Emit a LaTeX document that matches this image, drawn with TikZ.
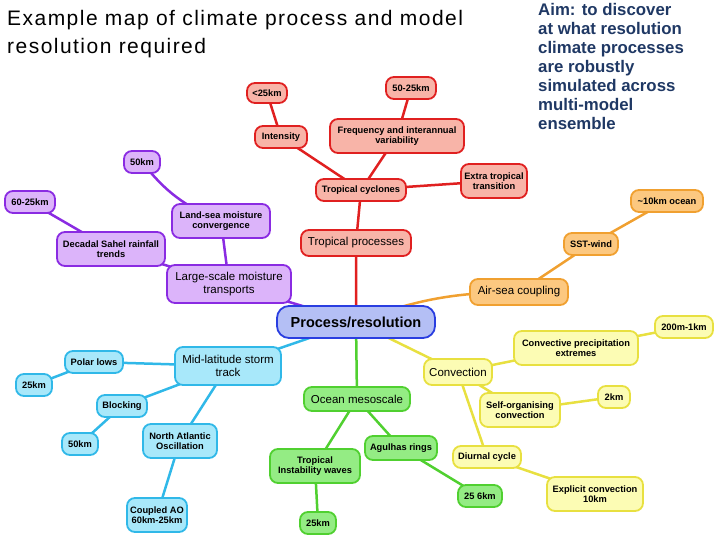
\documentclass[tikz,border=0pt]{standalone}
\usepackage{fontspec}
\setmainfont{Liberation Sans}
\usetikzlibrary{backgrounds}
\definecolor{rf}{HTML}{F8B4A8}\definecolor{rd}{HTML}{E02020}
\definecolor{pf}{HTML}{DCB4FA}\definecolor{pd}{HTML}{8A2BE2}
\definecolor{of}{HTML}{FCC880}\definecolor{od}{HTML}{F0A030}
\definecolor{yf}{HTML}{FCFCB4}\definecolor{yd}{HTML}{E8E040}
\definecolor{gf}{HTML}{94EC84}\definecolor{gd}{HTML}{50D030}
\definecolor{cf}{HTML}{A8E8FA}\definecolor{cd}{HTML}{30B8E8}
\definecolor{bf}{HTML}{B4BFF5}\definecolor{bd}{HTML}{2A3EE0}
\definecolor{aim}{HTML}{1F3864}
\tikzset{
 nd/.style={rounded corners=8pt,line width=1.8pt,align=center,inner sep=1.5pt,font=\fontsize{9.3}{10.5}\selectfont\bfseries},
 big/.style={font=\fontsize{11.5}{13}\selectfont},
 R/.style={nd,fill=rf,draw=rd},P/.style={nd,fill=pf,draw=pd},O/.style={nd,fill=of,draw=od},
 Y/.style={nd,fill=yf,draw=yd},G/.style={nd,fill=gf,draw=gd},C/.style={nd,fill=cf,draw=cd},
 e/.style={line width=2.5pt}
}
\begin{document}
\begin{tikzpicture}[x=1pt,y=-1pt]
\useasboundingbox (0,0) rectangle (720,540);
\node[anchor=north west,align=left,inner sep=0,font=\fontsize{21}{28}\selectfont\addfontfeatures{LetterSpace=7}] (title) at (7,10) {Example map of climate process and model\\resolution required};
\node[anchor=north west,align=left,text=aim,font=\fontsize{16.8}{19}\selectfont\bfseries,inner sep=0] (aimt) at (538,3) {Aim: to discover\\at what resolution\\climate processes\\are robustly\\simulated across\\multi-model\\ensemble};
% nodes
\node[nd,fill=bf,draw=bd,minimum width=158,minimum height=32,rounded corners=12pt,font=\fontsize{14.5}{15}\selectfont\bfseries] (root) at (356,322) {Process/resolution};
\node[R,big,minimum width=110,minimum height=26] (tp) at (356,243) {Tropical processes};
\node[R,minimum width=90,minimum height=22] (tc) at (361,190) {Tropical cyclones};
\node[R,minimum width=52,minimum height=22] (int) at (281,137) {Intensity};
\node[R,minimum width=40,minimum height=20] (r25) at (267,93) {<25km};
\node[R,minimum width=134,minimum height=34] (fiv) at (397,136) {Frequency and interannual\\variability};
\node[R,minimum width=50,minimum height=22] (r5025) at (411,88) {50-25km};
\node[R,minimum width=66,minimum height=34] (ett) at (494,181) {Extra tropical\\transition};
\node[P,big,minimum width=124,minimum height=38] (lsm) at (229,284) {Large-scale moisture\\transports};
\node[P,minimum width=98,minimum height=34] (lsc) at (221,221) {Land-sea moisture\\convergence};
\node[P,minimum width=36,minimum height=22] (p50) at (142,162) {50km};
\node[P,minimum width=108,minimum height=34] (dsr) at (111,249) {Decadal Sahel rainfall\\trends};
\node[P,minimum width=50,minimum height=22] (p6025) at (30,202) {60-25km};
\node[O,big,minimum width=98,minimum height=26] (asc) at (519,292) {Air-sea coupling};
\node[O,minimum width=54,minimum height=22] (sst) at (591,244) {SST-wind};
\node[O,minimum width=72,minimum height=22] (o10) at (667,201) {\textasciitilde10km ocean};
\node[Y,big,minimum width=68,minimum height=26] (conv) at (458,372) {Convection};
\node[Y,minimum width=124,minimum height=34] (cpe) at (576,348) {Convective precipitation\\extremes};
\node[Y,minimum width=58,minimum height=22] (y200) at (684,327) {200m-1km};
\node[Y,minimum width=80,minimum height=34] (soc) at (520,410) {Self-organising\\convection};
\node[Y,minimum width=32,minimum height=22] (y2) at (614,397) {2km};
\node[Y,minimum width=68,minimum height=22] (dc) at (487,457) {Diurnal cycle};
\node[Y,minimum width=96,minimum height=34] (ec) at (595,494) {Explicit convection\\10km};
\node[G,big,minimum width=106,minimum height=24] (om) at (357,399) {Ocean mesoscale};
\node[G,minimum width=90,minimum height=34] (tiw) at (315,466) {Tropical\\Instability waves};
\node[G,minimum width=36,minimum height=22] (g25) at (318,523) {25km};
\node[G,minimum width=72,minimum height=24] (ar) at (401,448) {Agulhas rings};
\node[G,minimum width=44,minimum height=22] (g256) at (480,496) {25 6km};
\node[C,big,minimum width=106,minimum height=38] (mls) at (228,366) {Mid-latitude storm\\track};
\node[C,minimum width=58,minimum height=22] (pl) at (94,362) {Polar lows};
\node[C,minimum width=36,minimum height=22] (c25) at (34,385) {25km};
\node[C,minimum width=50,minimum height=22] (bl) at (122,406) {Blocking};
\node[C,minimum width=36,minimum height=22] (c50) at (80,444) {50km};
\node[C,minimum width=74,minimum height=34] (nao) at (180,441) {North Atlantic\\Oscillation};
\node[C,minimum width=60,minimum height=34] (cao) at (157,515) {Coupled AO\\60km-25km};
% edges
\begin{scope}[on background layer]
\draw[e,rd] (root.center)--(tp.center) (tp.center)--(tc.center) (tc.center)--(int.center) (int.center)--(r25.center)
  (tc.center)--(fiv.center) (fiv.center)--(r5025.center) (tc.center)--(ett.center);
\draw[e,pd] (root.center)--(lsm.center) (lsm.center)--(lsc.center) (lsc.center) to[bend left=15] (p50.center)
  (lsm.center)--(dsr.center) (dsr.center)--(p6025.center);
\draw[e,od] (root.center) to[bend left=10] (asc.center) (asc.center)--(sst.center) (sst.center)--(o10.center);
\draw[e,yd] (root.center)--(conv.center) (conv.center)--(cpe.center) (cpe.center)--(y200.center)
  (conv.center)--(soc.center) (soc.center)--(y2.center) (conv.center)--(dc.center) (dc.center)--(ec.center);
\draw[e,gd] (root.center)--(om.center) (om.center)--(tiw.center) (tiw.center)--(g25.center)
  (om.center)--(ar.center) (ar.center)--(g256.center);
\draw[e,cd] (root.center)--(mls.center) (mls.center)--(pl.center) (pl.center)--(c25.center)
  (mls.center)--(bl.center) (bl.center)--(c50.center) (mls.center)--(nao.center) (nao.center)--(cao.center);
\end{scope}
\end{tikzpicture}
\end{document}
